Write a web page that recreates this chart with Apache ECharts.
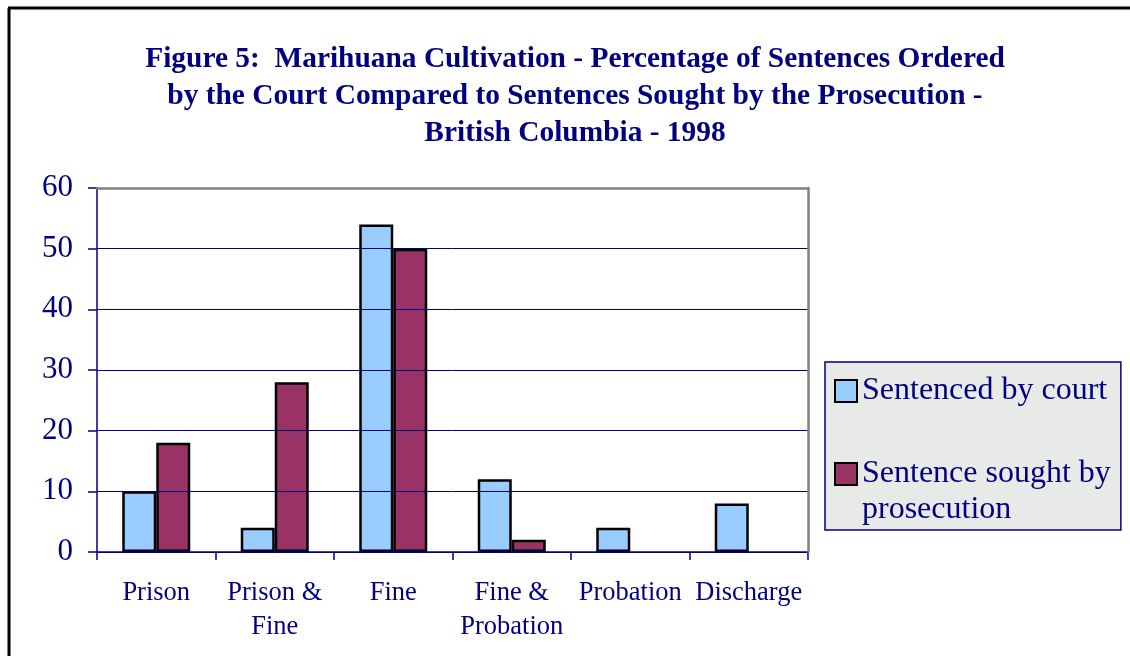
<!DOCTYPE html>
<html>
<head>
<meta charset="utf-8">
<script src="https://cdn.jsdelivr.net/npm/echarts@6/dist/echarts.min.js"></script>
<style>
html,body{margin:0;padding:0;background:#fff;}
#chart{width:1130px;height:656px;}
</style>
</head>
<body>
<div id="chart"></div>
<script>
const categories = ['Prison', 'Prison &\nFine', 'Fine', 'Fine &\nProbation', 'Probation', 'Discharge'];
const courtValues = [10, 4, 54, 12, 4, 8];
const prosecutionValues = [18, 28, 50, 2, 0, 0];
const yTicks = [0, 10, 20, 30, 40, 50, 60];
const seriesNames = ['Sentenced by court', 'Sentence sought by prosecution'];
const titleText = 'Figure 5:  Marihuana Cultivation - Percentage of Sentences Ordered\nby the Court Compared to Sentences Sought by the Prosecution -\nBritish Columbia - 1998';

const NAVY = '#000080';
const FONT = '"Liberation Serif", "Times New Roman", serif';

const chart = echarts.init(document.getElementById('chart'), null, {renderer: 'canvas'});
const option = {
  backgroundColor: '#ffffff',
  animation: false,
  title: {
    text: titleText,
    left: 575,
    top: 41,
    textAlign: 'center',
    padding: 0,
    textStyle: {
      fontFamily: FONT,
      fontWeight: 'bold',
      fontSize: 29.4,
      lineHeight: 37,
      color: NAVY
    }
  },
  legend: {
    orient: 'vertical',
    left: 825,
    top: 362,
    padding: [11, 10, 2, 9],
    itemGap: 11,
    itemWidth: 22,
    itemHeight: 22,
    icon: 'rect',
    backgroundColor: '#E7EAE7',
    borderColor: NAVY,
    borderWidth: 1.5,
    borderRadius: 0,
    selectedMode: false,
    formatter: function (name) {
      // leading blank line keeps the swatch level with the first text line
      return name === seriesNames[1] ? '\nSentence sought by\nprosecution' : name;
    },
    textStyle: {
      fontFamily: FONT,
      fontSize: 32,
      lineHeight: 36,
      color: NAVY
    },
    data: seriesNames
  },
  grid: {
    left: 97,
    right: 322,
    top: 188,
    bottom: 104,
    containLabel: false
  },
  xAxis: [{
    type: 'category',
    data: categories,
    boundaryGap: true,
    axisLine: {show: true, lineStyle: {color: NAVY, width: 1.5}},
    axisTick: {show: true, length: 8, lineStyle: {color: NAVY, width: 1.5}},
    axisLabel: {
      fontFamily: FONT,
      fontSize: 26.5,
      lineHeight: 34,
      color: NAVY,
      margin: 24,
      interval: 0
    },
    splitLine: {show: false},
    z: 3
  }, {
    type: 'category',
    data: categories,
    position: 'top',
    axisLine: {show: true, onZero: false, lineStyle: {color: '#808080', width: 2.5}},
    axisTick: {show: false},
    axisLabel: {show: false},
    splitLine: {show: false},
    z: 4
  }],
  yAxis: [{
    type: 'value',
    min: 0,
    max: 60,
    interval: 10,
    axisLine: {show: true, lineStyle: {color: NAVY, width: 1.5}},
    axisTick: {show: true, length: 9, lineStyle: {color: NAVY, width: 1.5}},
    axisLabel: {
      fontFamily: FONT,
      fontSize: 31,
      color: NAVY,
      margin: 24,
      formatter: function (v) { return yTicks.indexOf(v) >= 0 ? String(v) : ''; }
    },
    splitLine: {show: true, lineStyle: {color: NAVY, width: 1}},
    z: 3
  }, {
    type: 'value',
    min: 0,
    max: 60,
    interval: 10,
    position: 'right',
    axisLine: {show: true, onZero: false, lineStyle: {color: '#808080', width: 2.5}},
    axisTick: {show: false},
    axisLabel: {show: false},
    splitLine: {show: false},
    z: 4
  }],
  series: [{
    name: seriesNames[0],
    type: 'bar',
    data: courtValues,
    barWidth: 34,
    barGap: '0%',
    itemStyle: {color: '#99CCFF', borderColor: '#000000', borderWidth: 2.5},
    z: 2
  }, {
    name: seriesNames[1],
    type: 'bar',
    data: prosecutionValues.map(v => v === 0 ? null : v),
    barWidth: 34,
    barGap: '0%',
    itemStyle: {color: '#993366', borderColor: '#000000', borderWidth: 2.5},
    z: 2
  }],
  graphic: [{
    type: 'line',
    shape: {x1: 9, y1: 8, x2: 9, y2: 656},
    style: {stroke: '#000', lineWidth: 3},
    z: 10
  }, {
    type: 'line',
    shape: {x1: 8, y1: 8, x2: 1130, y2: 8},
    style: {stroke: '#000', lineWidth: 3},
    z: 10
  }]
};
chart.setOption(option);
</script>
</body>
</html>
